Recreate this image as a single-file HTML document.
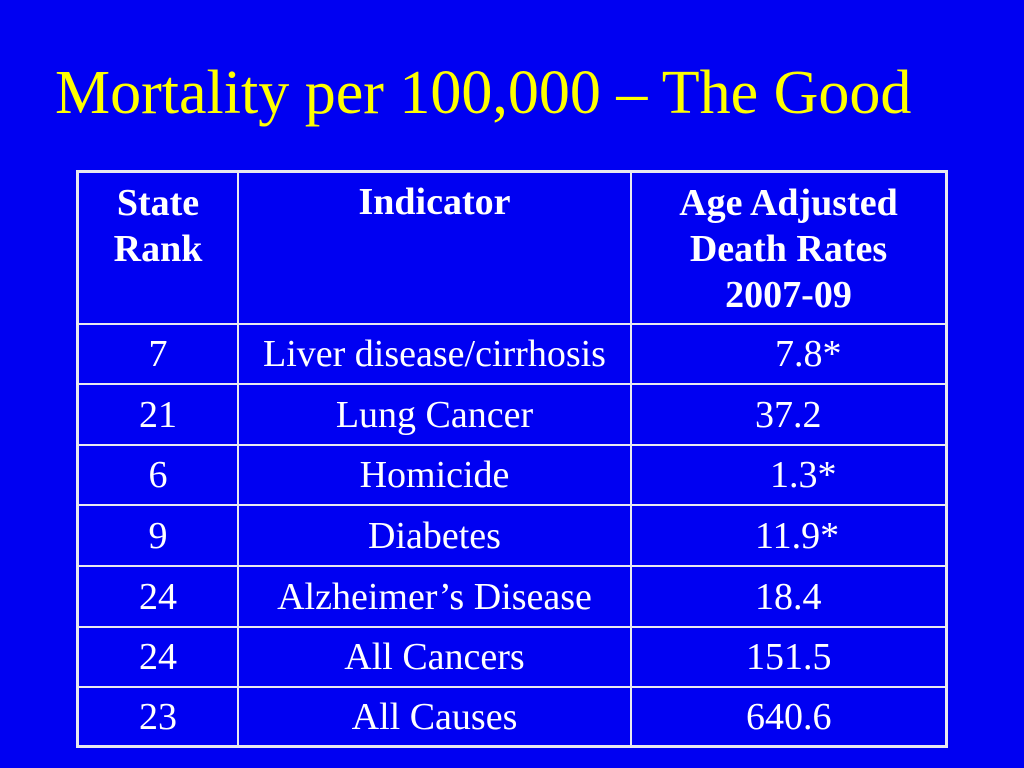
<!DOCTYPE html>
<html><head><meta charset="utf-8"><style>
body{margin:0;width:1024px;height:768px;background:#0000f2;overflow:hidden;font-family:"Liberation Serif",serif;color:#fff;position:relative}
.t{position:absolute;left:55px;top:58px;font-size:62px;color:#ffff00;white-space:nowrap}
.l{position:absolute;background:#e8e8f0}
.c{position:absolute;font-size:38px;line-height:40px;white-space:nowrap}
.h{font-weight:bold;text-align:center}
</style></head><body>
<div class="t">Mortality per 100,000 – The Good</div>
<div>
<div class="l" style="left:76px;top:170px;width:872px;height:3px"></div>
<div class="l" style="left:76px;top:745px;width:872px;height:3px"></div>
<div class="l" style="left:76px;top:170px;width:3px;height:578px"></div>
<div class="l" style="left:945px;top:170px;width:3px;height:578px"></div>
<div class="l" style="left:237px;top:170px;width:2px;height:578px"></div>
<div class="l" style="left:630px;top:170px;width:2px;height:578px"></div>
<div class="l" style="left:76px;top:323px;width:872px;height:2px"></div>
<div class="l" style="left:76px;top:383px;width:872px;height:2px"></div>
<div class="l" style="left:76px;top:444px;width:872px;height:2px"></div>
<div class="l" style="left:76px;top:504px;width:872px;height:2px"></div>
<div class="l" style="left:76px;top:565px;width:872px;height:2px"></div>
<div class="l" style="left:76px;top:626px;width:872px;height:2px"></div>
<div class="l" style="left:76px;top:686px;width:872px;height:2px"></div>
<div class="c h" style="left:79px;width:158px;top:180px;line-height:46px">State<br>Rank</div>
<div class="c h" style="left:239px;width:391px;top:182px">Indicator</div>
<div class="c h" style="left:632px;width:313px;top:180px;line-height:46px">Age Adjusted<br>Death Rates<br>2007-09</div>
</div>
<script>
const ranks=["7","21","6","9","24","24","23"];
const indicators=["Liver disease/cirrhosis","Lung Cancer","Homicide","Diabetes","Alzheimer’s Disease","All Cancers","All Causes"];
const rates=["7.8*","37.2","1.3*","11.9*","18.4","151.5","640.6"];
const rateLeft=[775,755,770,755,755,746,746];
const rowTops=[334,395,455,516,577,637,697];
for(let i=0;i<ranks.length;i++){
  const a=document.createElement('div');a.className='c';a.style.cssText=`left:79px;width:158px;text-align:center;top:${rowTops[i]}px`;a.textContent=ranks[i];
  
  
  document.body.appendChild(a);
  const b=document.createElement('div');b.className='c';b.style.cssText=`left:239px;width:391px;text-align:center;top:${rowTops[i]}px`;b.textContent=indicators[i];
  
  
  document.body.appendChild(b);
  const d=document.createElement('div');d.className='c';d.style.cssText=`left:${rateLeft[i]}px;top:${rowTops[i]}px`;d.textContent=rates[i];
  
  
  document.body.appendChild(d);
}
</script>
</body></html>
